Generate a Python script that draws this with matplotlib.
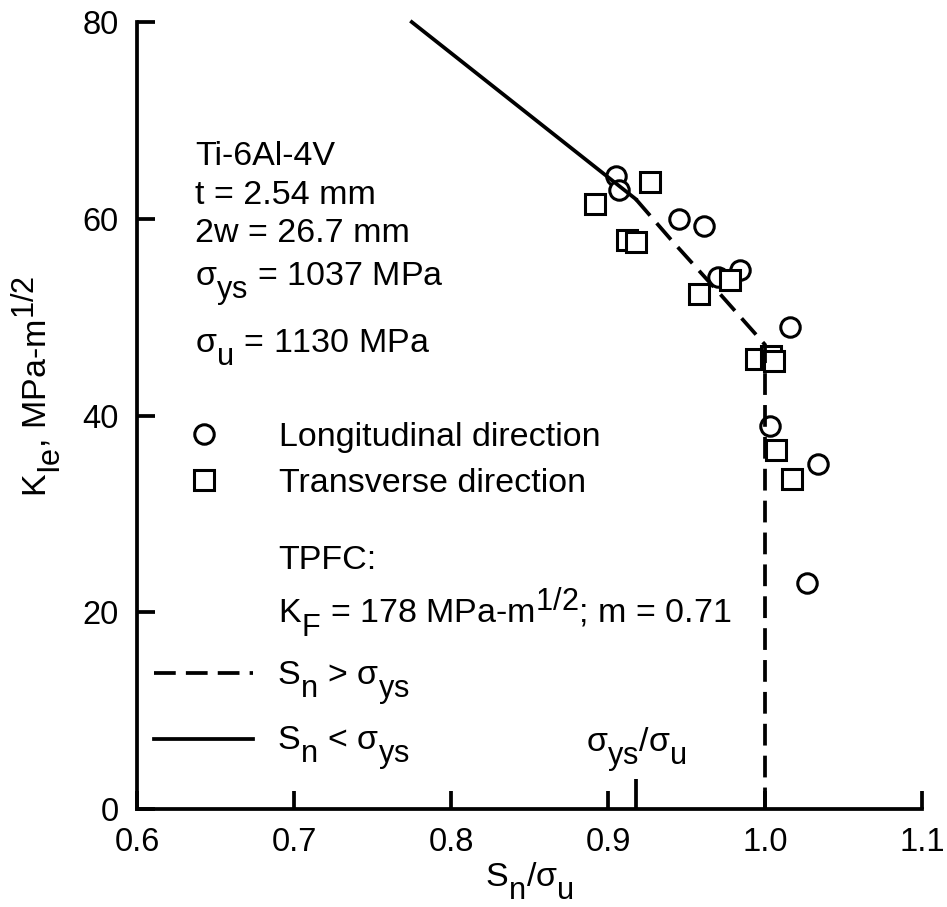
import matplotlib
matplotlib.use('Agg')
import matplotlib.pyplot as plt
import matplotlib._mathtext as mt
import numpy as np

plt.rcParams['font.family'] = ['Liberation Sans', 'DejaVu Sans']
plt.rcParams['mathtext.fontset'] = 'custom'
plt.rcParams['mathtext.rm'] = 'Liberation Sans'
plt.rcParams['mathtext.it'] = 'Liberation Sans'
plt.rcParams['mathtext.bf'] = 'Liberation Sans:bold'
# subscripts in the original are nearly full size and sit well below the baseline
mt.SHRINK_FACTOR = 0.9
mt.FontConstantsBase.sub1 = 0.75

# test data
long_x = [0.905, 0.907, 0.945, 0.961, 0.970, 0.984, 1.016, 1.003, 1.034, 1.027]
long_y = [64.3, 62.9, 60.0, 59.3, 54.1, 54.8, 49.0, 38.9, 35.1, 23.0]
trans_x = [0.927, 0.892, 0.912, 0.918, 0.978, 0.958, 0.994, 1.004, 1.006, 1.007, 1.017]
trans_y = [63.7, 61.5, 57.8, 57.6, 53.8, 52.4, 45.7, 46.1, 45.5, 36.5, 33.6]

# TPFC curve
sig_ys, sig_u = 1037.0, 1130.0
ys_ratio = sig_ys / sig_u
low_x = [0.775, ys_ratio]
low_y = [80.0, 62.0]
high_x = [ys_ratio, 0.94, 0.97, 1.0, 1.0]
high_y = [62.0, 57.9, 52.6, 47.2, 0.0]

fs = 24.5
lw = 2.7

fig = plt.figure(figsize=(9.47, 9.07), dpi=100)
ax = fig.add_axes([0.1447, 0.108, 0.8289, 0.8677])

mk = dict(linestyle='none', markersize=14, markeredgewidth=2.2,
          markeredgecolor='k', markerfacecolor='white')
p1, = ax.plot(long_x, long_y, marker='o', label='Longitudinal direction', zorder=3, **mk)
p2, = ax.plot(trans_x, trans_y, marker='s', label='Transverse direction', zorder=3, **mk)
l_hi, = ax.plot(high_x, high_y, color='k', lw=lw, linestyle=(0, (5.8, 2.7)),
                label=r'$\mathregular{S_n}$ > $\mathregular{\sigma_{ys}}$', zorder=4, clip_on=False)
l_lo, = ax.plot(low_x, low_y, color='k', lw=lw,
                label=r'$\mathregular{S_n}$ < $\mathregular{\sigma_{ys}}$', zorder=4, clip_on=False)

ax.set_xlim(0.6, 1.1)
ax.set_ylim(0, 80)
ax.set_xticks([0.6, 0.7, 0.8, 0.9, 1.0, 1.1])
ax.set_xticklabels(['0.6', '0.7', '0.8', '0.9', '1.0', '1.1'])
ax.set_yticks([0, 20, 40, 60, 80])
ax.set_xticks([ys_ratio], minor=True)
ax.tick_params(which='major', direction='in', length=13, width=lw, labelsize=23.5, pad=13)
ax.tick_params(axis='x', which='minor', direction='in', length=21.5, width=lw)
for s in ['top', 'right']:
    ax.spines[s].set_visible(False)
for s in ['left', 'bottom']:
    ax.spines[s].set_linewidth(lw)

ax.set_xlabel(r'$\mathregular{S_n/\sigma_u}$', fontsize=fs, labelpad=2)
ax.set_ylabel(r'$\mathregular{K_{Ie}}$, MPa-m$\mathregular{^{1/2}}$', fontsize=fs)
ax.yaxis.set_label_coords(-0.093, 0.537)

ax.text(0.637, 65.5, 'Ti-6Al-4V', fontsize=fs)
ax.text(0.637, 61.5, 't = 2.54 mm', fontsize=fs)
ax.text(0.637, 57.6, '2w = 26.7 mm', fontsize=fs)
ax.text(0.637, 53.1, r'$\mathregular{\sigma_{ys}}$ = 1037 MPa', fontsize=fs)
ax.text(0.637, 46.4, r'$\mathregular{\sigma_u}$ = 1130 MPa', fontsize=fs)
ax.text(0.6898, 24.45, 'TPFC:', fontsize=fs)
ax.text(0.6898, 18.9, r'$\mathregular{K_F}$ = 178 MPa-m$\mathregular{^{1/2}}$; m = 0.71', fontsize=fs)
ax.text(0.918, 5.7, r'$\mathregular{\sigma_{ys}/\sigma_u}$', fontsize=fs, ha='center')

leg1 = ax.legend(handles=[p1, p2], loc='upper left', bbox_to_anchor=(0.0637, 0.492),
                 frameon=False, fontsize=fs, handlelength=1.0, handletextpad=1.7,
                 labelspacing=0.45, borderpad=0, borderaxespad=0)
ax.add_artist(leg1)
ax.legend(handles=[l_hi, l_lo], loc='upper left', bbox_to_anchor=(0.0217, 0.19),
          frameon=False, fontsize=fs, handlelength=2.9, handletextpad=0.7,
          labelspacing=0.5, borderpad=0, borderaxespad=0)

fig.savefig('out.png', dpi=100)
